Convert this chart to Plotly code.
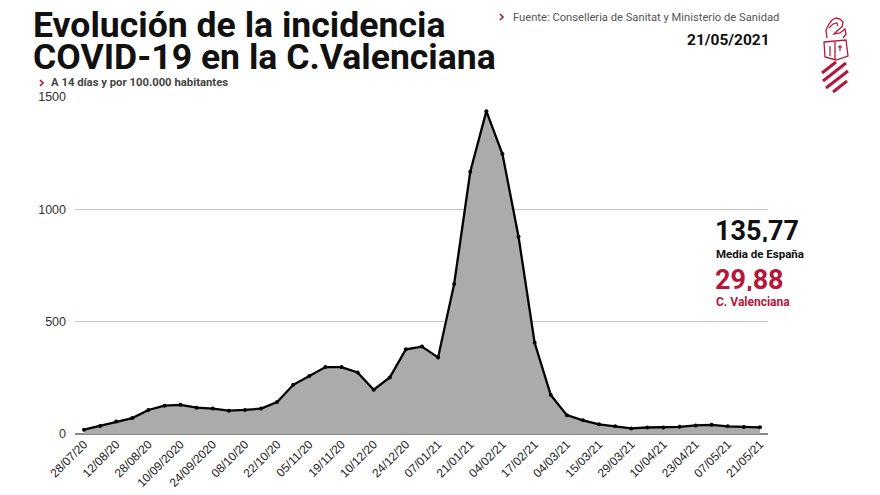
import plotly.graph_objects as go

# ---- data ----
dates = ["28/07/20", "12/08/20", "28/08/20", "10/09/2020", "24/09/2020", "08/10/20",
         "22/10/20", "05/11/20", "19/11/20", "10/12/20", "24/12/20", "07/01/21",
         "21/01/21", "04/02/21", "17/02/21", "04/03/21", "15/03/21", "29/03/21",
         "10/04/21", "23/04/21", "07/05/21", "21/05/21"]
incidence = [19, 36, 56, 71, 107, 126, 130, 117, 113, 104, 107, 113, 142, 219, 258,
             298, 298, 274, 197, 252, 377, 389, 341, 668, 1167, 1437, 1246, 878, 406,
             174, 84, 61, 43, 34, 25, 29, 29, 32, 38, 41, 34, 31, 29.88]
y_ticks = [0, 500, 1000, 1500]
media_espana = "135,77"
media_cv = "29,88"

RED = "#b5173a"
W, H = 880, 495
ML, MR, MT, MB = 75, 112, 97, 61
PW, PH = W - ML - MR, H - MT - MB


def px(x):
    return (x - ML) / PW


def py(y):
    return (H - MB - y) / PH


def path(points, close=False):
    s = "M" + " L".join(f"{px(x):.5f},{py(y):.5f}" for x, y in points)
    return s + (" Z" if close else "")


xs = list(range(len(incidence)))
tick_idx = list(range(0, len(incidence), 2))

fig = go.Figure()
fig.add_trace(go.Scatter(
    x=xs, y=incidence, mode="lines+markers", fill="tozeroy",
    fillcolor="#ababab", line=dict(color="#000000", width=2.3),
    marker=dict(color="#000000", size=4), hoverinfo="skip", showlegend=False))

fig.update_layout(
    width=W, height=H, margin=dict(l=ML, r=MR, t=MT, b=MB, autoexpand=False),
    paper_bgcolor="white", plot_bgcolor="white",
    xaxis=dict(range=[-0.56, 42.5], tickmode="array", tickvals=tick_idx,
               ticktext=dates, tickangle=-45, showgrid=False, zeroline=False,
               showline=False, ticks="", automargin=False,
               tickfont=dict(family="Liberation Sans", size=12, color="#222")),
    yaxis=dict(range=[0, 1500], tickmode="array", tickvals=y_ticks,
               showgrid=True, gridcolor="#c4c4c4", gridwidth=1,
               zeroline=True, zerolinecolor="#888888", zerolinewidth=1.5,
               showline=False, ticks="", ticklabelstandoff=8, automargin=False,
               tickfont=dict(family="Liberation Sans", size=12.5, color="#333")),
    font=dict(family="Roboto"),
)

ann = []


def text(x, y, t, size, color, xanchor="left", bold=True, h=None):
    d = dict(x=px(x), y=py(y), xref="paper", yref="paper", text=(f"<b>{t}</b>" if bold else t),
             showarrow=False, xanchor=xanchor, yanchor="middle",
             font=dict(family="Roboto", size=size, color=color))
    if h is not None:
        d["height"] = h
    ann.append(d)


text(31, 25, "Evolución de la incidencia", 35.6, "#111", h=31)
text(31, 57, "COVID-19 en la C.Valenciana", 35.6, "#111", h=31)
text(49, 83, "A 14 días y por 100.000 habitantes", 11.3, "#444", h=13)
text(511, 17, "Fuente: Conselleria de Sanitat y Ministerio de Sanidad", 11.2, "#555", bold=False)
text(772, 40, "21/05/2021", 15.5, "#111", xanchor="right")
text(713, 231, media_espana, 27, "#111", h=22)
text(714, 253, "Media de España", 11.5, "#111", h=13)
text(713, 280, media_cv, 27, RED, h=22)
text(714, 301, "C. Valenciana", 12, RED, h=13)
fig.update_layout(annotations=ann)

shapes = []
# chevrons
for cx, cy in [(40, 83), (500, 17)]:
    shapes.append(dict(type="path", xref="paper", yref="paper",
                       path=path([(cx, cy - 3), (cx + 3, cy), (cx, cy + 3)]),
                       line=dict(color=RED, width=1.6)))
# logo: stripes of shield
for a, b in [((822, 73), (836, 62)), ((823, 81), (846, 63)),
             ((826, 88), (848, 71)), ((833, 92), (847, 81))]:
    shapes.append(dict(type="line", xref="paper", yref="paper",
                       x0=px(a[0]), y0=py(a[1]), x1=px(b[0]), y1=py(b[1]),
                       line=dict(color=RED, width=3)))
# helmet
shapes.append(dict(type="path", xref="paper", yref="paper",
                   path=path([(824, 42), (846, 40), (848, 56), (836, 60), (825, 57)], close=True),
                   line=dict(color=RED, width=1.3)))
shapes.append(dict(type="line", xref="paper", yref="paper",
                   x0=px(835), y0=py(42), x1=px(835), y1=py(59), line=dict(color=RED, width=1.3)))
shapes.append(dict(type="line", xref="paper", yref="paper",
                   x0=px(830), y0=py(46), x1=px(830), y1=py(56), line=dict(color=RED, width=1.2)))
shapes.append(dict(type="line", xref="paper", yref="paper",
                   x0=px(840), y0=py(45), x1=px(840), y1=py(51), line=dict(color=RED, width=1.2)))
shapes.append(dict(type="line", xref="paper", yref="paper",
                   x0=px(838), y0=py(47), x1=px(842), y1=py(47), line=dict(color=RED, width=1.2)))
# crest (bat/dragon)
shapes.append(dict(type="path", xref="paper", yref="paper",
                   path=path([(827, 38), (826, 30), (829, 24), (832, 20), (836, 18), (840, 19),
                              (843, 22), (842, 27), (838, 30), (834, 34), (840, 33), (845, 29),
                              (846, 34), (843, 38)]),
                   line=dict(color=RED, width=1.3)))
shapes.append(dict(type="path", xref="paper", yref="paper",
                   path=path([(829, 28), (833, 24), (837, 23), (838, 26)]),
                   line=dict(color=RED, width=1.1)))
fig.update_layout(shapes=shapes)

fig.write_html("out.html")
